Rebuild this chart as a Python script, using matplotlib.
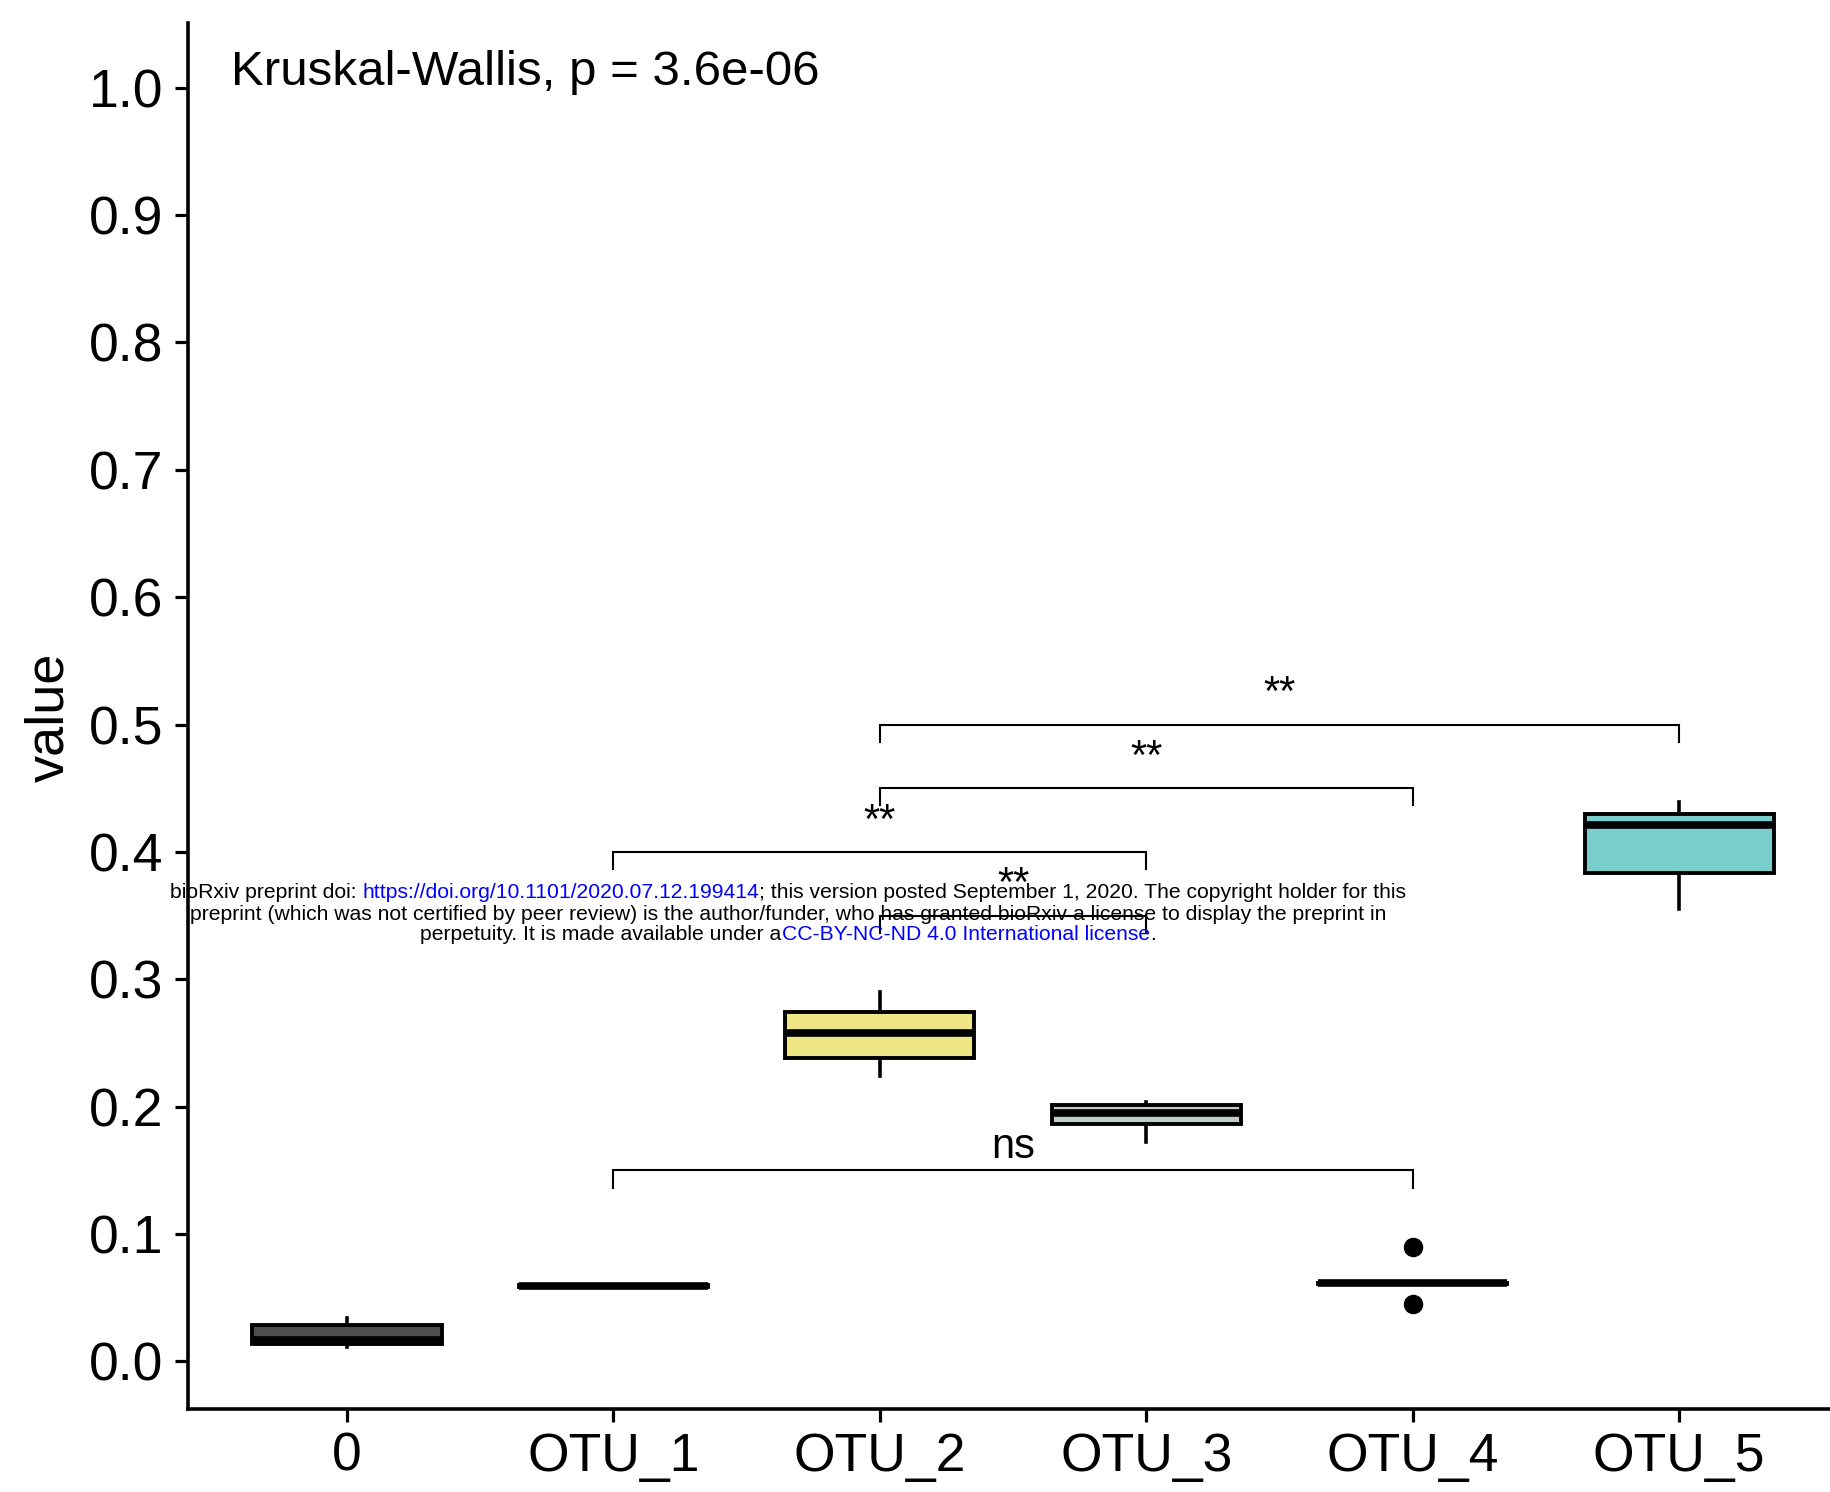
import matplotlib.pyplot as plt

plt.rcParams['font.family'] = ['Liberation Sans', 'DejaVu Sans']

# groups and box statistics
groups = ['0', 'OTU_1', 'OTU_2', 'OTU_3', 'OTU_4', 'OTU_5']
q1 = [0.0135, 0.0585, 0.2385, 0.1864, 0.0607, 0.3832]
median = [0.0168, 0.0593, 0.2576, 0.1950, 0.0614, 0.4209]
q3 = [0.0287, 0.0600, 0.2741, 0.2013, 0.0620, 0.4295]
whisker_lo = [0.0116, 0.0585, 0.2241, 0.1726, 0.0607, 0.3552]
whisker_hi = [0.0344, 0.0600, 0.2903, 0.2040, 0.0620, 0.4394]
outliers = [[], [], [], [], [0.0896, 0.0451], []]
fills = ['#4D4D4D', '#1A1A1A', '#EEE685', '#C1CDCD', '#8B8B83', '#79CDCD']

# pairwise comparisons: (group a, group b, bracket height, label)
pair_a = ['OTU_2', 'OTU_2', 'OTU_1', 'OTU_2', 'OTU_1']
pair_b = ['OTU_5', 'OTU_4', 'OTU_3', 'OTU_3', 'OTU_4']
pair_y = [0.50, 0.45, 0.40, 0.35, 0.15]
pair_label = ['**', '**', '**', '**', 'ns']

title = 'Kruskal-Wallis, p = 3.6e-06'

W, H = 1831, 1492
fig = plt.figure(figsize=(W / 100, H / 100), dpi=100)
ax = fig.add_axes([188 / W, (H - 1409) / H, (W - 188) / W, (1409 - 23) / H])

stats = []
for i in range(len(groups)):
    stats.append(dict(med=median[i], q1=q1[i], q3=q3[i],
                      whislo=whisker_lo[i], whishi=whisker_hi[i],
                      fliers=outliers[i]))

pos = list(range(1, len(groups) + 1))
bp = ax.bxp(stats, positions=pos, widths=0.71, patch_artist=True,
            showcaps=False,
            boxprops=dict(linewidth=2.8, edgecolor='black'),
            medianprops=dict(color='black', linewidth=5.5),
            whiskerprops=dict(color='black', linewidth=2.6),
            flierprops=dict(marker='o', markerfacecolor='black',
                            markeredgecolor='black', markersize=13))
for patch, c in zip(bp['boxes'], fills):
    patch.set_facecolor(c)

# significance brackets
tip = 0.0135
for a, b, y, lab in zip(pair_a, pair_b, pair_y, pair_label):
    xa = groups.index(a) + 1
    xb = groups.index(b) + 1
    ax.plot([xa, xa, xb, xb], [y - tip, y, y, y - tip], color='black',
            linewidth=1.5, solid_joinstyle='miter')
    off = 0.008 if lab != 'ns' else 0.003
    ax.text((xa + xb) / 2, y + off, lab, ha='center', va='bottom',
            fontsize=30)

ax.text(0.564, 1.012, title, ha='left', va='center', fontsize=35.5)

ax.set_xlim(0.403, 6.57)
ax.set_ylim(-0.0373, 1.0507)
ax.set_xticks(pos)
ax.set_xticklabels(groups)
ax.set_yticks([0.0, 0.1, 0.2, 0.3, 0.4, 0.5, 0.6, 0.7, 0.8, 0.9, 1.0])
ax.set_yticklabels(['0.0', '0.1', '0.2', '0.3', '0.4', '0.5', '0.6', '0.7',
                    '0.8', '0.9', '1.0'])
ax.tick_params(axis='both', labelsize=38.5, length=9.5, width=2.3,
               color='black', labelcolor='black')
ax.tick_params(axis='x', pad=7)
ax.tick_params(axis='y', pad=8)
for s in ['top', 'right']:
    ax.spines[s].set_visible(False)
for s in ['left', 'bottom']:
    ax.spines[s].set_linewidth(2.6)

fig.text(49 / W, 1 - 717 / H, 'value', rotation=90, ha='center',
         va='center', fontsize=39)

# bioRxiv notice printed over the figure
notice = [
    [('bioRxiv preprint doi: ', 'black'),
     ('https://doi.org/10.1101/2020.07.12.199414', 'blue'),
     ('; this version posted September 1, 2020. The copyright holder for this', 'black')],
    [('preprint (which was not certified by peer review) is the author/funder, who has granted bioRxiv a license to display the preprint in', 'black')],
    [('perpetuity. It is made available under a', 'black'),
     ('CC-BY-NC-ND 4.0 International license', 'blue'),
     ('.', 'black')],
]
line_y = [1 - 893 / H, 1 - 914 / H, 1 - 935 / H]
cx = 788 / W
fs_notice = 15.2
firsts = []
pieces = []
for parts, y in zip(notice, line_y):
    prev = None
    row = []
    for txt, col in parts:
        if prev is None:
            t = fig.text(cx, y, txt, color=col, fontsize=fs_notice,
                         ha='left', va='center')
            firsts.append(t)
        else:
            t = ax.annotate(txt, xy=(1, 0), xycoords=prev, color=col,
                            fontsize=fs_notice, ha='left', va='bottom',
                            annotation_clip=False)
        row.append(t)
        prev = t
    pieces.append(row)

fig.canvas.draw()
r = fig.canvas.get_renderer()
for row, first, y in zip(pieces, firsts, line_y):
    x0 = row[0].get_window_extent(r).x0
    x1 = row[-1].get_window_extent(r).x1
    width_frac = (x1 - x0) / W
    first.set_position((cx - width_frac / 2, y))

fig.savefig('out.png', dpi=100)
